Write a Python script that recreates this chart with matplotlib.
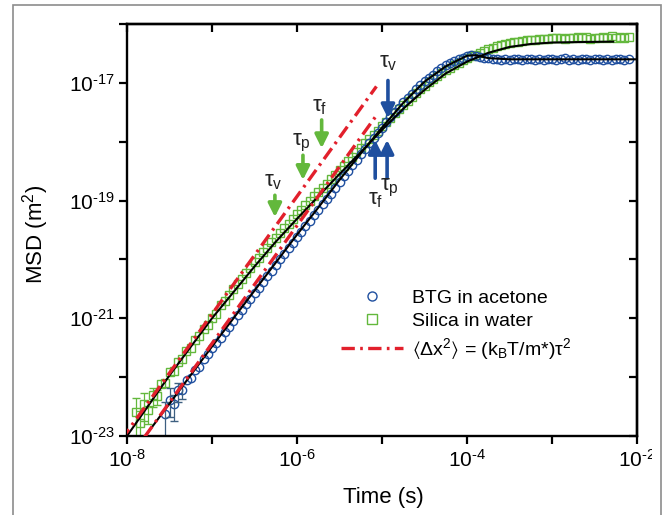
import numpy as np
import matplotlib
matplotlib.use('Agg')
from matplotlib import pyplot as plt
from matplotlib.lines import Line2D
from matplotlib.patches import Rectangle
from matplotlib.ticker import NullLocator, NullFormatter, FixedLocator, FuncFormatter

plt.rcParams['font.family'] = ['Liberation Sans', 'DejaVu Sans']
plt.rcParams['mathtext.fontset'] = 'custom'
plt.rcParams['mathtext.rm'] = 'Liberation Sans'
plt.rcParams['mathtext.it'] = 'Liberation Sans:italic'
plt.rcParams['mathtext.default'] = 'regular'
plt.rcParams['axes.unicode_minus'] = False

blue = '#1f4f9f'
green = '#63b83c'
red = '#e2202c'

# measured MSD, log10 values (m^2), sampled every 0.05 decade in time
msd_green = [
    -22.60, -22.78, -22.45, -22.55, -22.30, -22.32, -22.12, -22.10, -21.92, -21.90,
    -21.74, -21.70, -21.55, -21.50, -21.37, -21.30, -21.18, -21.11, -21.00, -20.92,
    -20.78, -20.70, -20.60, -20.51, -20.41, -20.33, -20.23, -20.15, -20.05, -19.97,
    -19.88, -19.80, -19.71, -19.63, -19.55, -19.47, -19.39, -19.32, -19.23, -19.16,
    -19.08, -19.01, -18.93, -18.86, -18.78, -18.71, -18.63, -18.56, -18.48, -18.41,
    -18.33, -18.26, -18.18, -18.11, -18.03, -17.96, -17.88, -17.81, -17.73, -17.66,
    -17.59, -17.51, -17.44, -17.37, -17.31, -17.24, -17.18, -17.11, -17.05, -16.99,
    -16.94, -16.88, -16.83, -16.78, -16.74, -16.70, -16.66, -16.62, -16.58, -16.55,
    -16.52, -16.49, -16.46, -16.43, -16.41, -16.38, -16.36, -16.34, -16.32, -16.31,
    -16.30, -16.29, -16.28, -16.27, -16.27, -16.26, -16.25, -16.25, -16.24, -16.24,
    -16.24, -16.25, -16.23, -16.24, -16.22, -16.24, -16.22, -16.25, -16.23, -16.24,
    -16.22, -16.23, -16.21, -16.24, -16.22, -16.23, -16.22]
t_green = np.linspace(-7.9, -2.1, len(msd_green))

msd_blue = [
    -22.62, -22.38, -22.45, -22.22, -22.22, -22.05, -22.02, -21.88, -21.82, -21.70,
    -21.60, -21.51, -21.42, -21.33, -21.23, -21.14, -21.05, -20.95, -20.86, -20.76,
    -20.67, -20.57, -20.48, -20.38, -20.29, -20.19, -20.10, -20.00, -19.91, -19.81,
    -19.72, -19.62, -19.53, -19.44, -19.34, -19.25, -19.16, -19.06, -18.97, -18.88,
    -18.78, -18.68, -18.59, -18.50, -18.40, -18.31, -18.21, -18.12, -18.03, -17.94,
    -17.85, -17.76, -17.67, -17.58, -17.50, -17.42, -17.33, -17.26, -17.19, -17.11,
    -17.04, -16.97, -16.91, -16.86, -16.80, -16.75, -16.70, -16.66, -16.63, -16.60,
    -16.57, -16.54, -16.53, -16.54, -16.56, -16.58, -16.58, -16.60, -16.59, -16.61,
    -16.60, -16.61, -16.59, -16.60, -16.62, -16.60, -16.59, -16.61, -16.60, -16.62,
    -16.60, -16.59, -16.61, -16.60, -16.58, -16.61, -16.60, -16.62, -16.59, -16.60,
    -16.61, -16.60, -16.59, -16.61, -16.60, -16.62, -16.59, -16.60, -16.61, -16.60]
t_blue = np.linspace(-7.55, -2.1, len(msd_blue))

# error bars on the first points (decades below / above)
err_green_lo = [0.45, 0.35, 0.30, 0.25, 0.20, 0.15]
err_green_hi = [0.25, 0.20, 0.18, 0.15, 0.12, 0.10]
err_blue_lo = [0.55, 0.30, 0.30, 0.20, 0.15]
err_blue_hi = [0.20, 0.20, 0.15, 0.12, 0.10]

# fitted curves (log10 t, log10 MSD)
fit_green_t = [-8.0, -7.5, -7.0, -6.5, -6.25, -6.0, -5.75, -5.5, -5.25, -5.0,
               -4.75, -4.5, -4.25, -4.0, -3.75, -3.5, -3.25, -3.0, -2.6, -2.28]
fit_green_m = [-23.0, -21.97, -21.0, -20.12, -19.7, -19.31, -18.93, -18.55, -18.18, -17.8,
               -17.44, -17.12, -16.84, -16.64, -16.49, -16.39, -16.34, -16.315, -16.305, -16.30]
fit_blue_t = [-7.8, -7.5, -7.0, -6.5, -6.0, -5.75, -5.5, -5.25, -5.0, -4.75,
              -4.5, -4.25, -4.1, -4.0, -3.9, -3.75, -3.5, -3.0, -2.5, -2.0]
fit_blue_m = [-23.03, -22.45, -21.48, -20.53, -19.58, -19.12, -18.65, -18.2, -17.76, -17.34,
              -16.98, -16.72, -16.61, -16.54, -16.53, -16.58, -16.60, -16.60, -16.60, -16.60]

# ballistic lines <dx^2> = (kT/m*) t^2
ball_green_t = [8.5e-9, 8.6e-6]
ball_green_m = [8.5e-24, 8.7e-18]
ball_blue_t = [1.6e-8, 8.3e-6]
ball_blue_m = [9.5e-24, 2.6e-18]

# time-scale markers: label, colour, log t, tail, tip, label height
arrows = [
    ('v', green, -6.26, -18.91, -19.28, -18.68),
    ('p', green, -5.93, -18.23, -18.65, -18.02),
    ('f', green, -5.71, -17.63, -18.11, -17.40),
    ('v', blue, -4.93, -16.96, -17.60, -16.66),
    ('f', blue, -5.08, -18.62, -17.97, -18.98),
    ('p', blue, -4.94, -18.62, -17.97, -18.78),
]

fig = plt.figure(figsize=(6.63, 5.15), dpi=100)
ax = fig.add_axes([127/663, 1-436/515, 510/663, 412/515])
ax.set_xscale('log')
ax.set_yscale('log')

tg = 10**t_green
mg = 10**np.array(msd_green)
tb = 10**t_blue
mb = 10**np.array(msd_blue)

ax.plot(tg, mg, ls='none', marker='s', ms=6.0, mfc='none', mec=green, mew=1.0, zorder=2)
ax.plot(tb, mb, ls='none', marker='o', ms=6.0, mfc='none', mec=blue, mew=1.0, zorder=2)

n = len(err_green_lo)
ax.errorbar(tg[:n], mg[:n],
            yerr=[mg[:n] - mg[:n]*10**-np.array(err_green_lo), mg[:n]*10**np.array(err_green_hi) - mg[:n]],
            fmt='none', ecolor=green, elinewidth=0.9, capsize=3, zorder=2)
n = len(err_blue_lo)
ax.errorbar(tb[:n], mb[:n],
            yerr=[mb[:n] - mb[:n]*10**-np.array(err_blue_lo), mb[:n]*10**np.array(err_blue_hi) - mb[:n]],
            fmt='none', ecolor='#3d5f80', elinewidth=0.9, capsize=3, zorder=2)

ax.plot(10**np.array(fit_green_t), 10**np.array(fit_green_m), color='black', lw=1.5, zorder=3)
ax.plot(10**np.array(fit_blue_t), 10**np.array(fit_blue_m), color='black', lw=1.5, zorder=3)

dash = (0, (4, 1.6, 0.8, 1.6))
ax.plot(ball_green_t, ball_green_m, color=red, lw=2.4, ls=dash, zorder=4)
ax.plot(ball_blue_t, ball_blue_m, color=red, lw=2.4, ls=dash, zorder=4)

for sub, col, lt, tail, tip, lab in arrows:
    ax.annotate('', xy=(10**lt, 10**tip), xytext=(10**lt, 10**tail),
                arrowprops=dict(arrowstyle='-|>,head_width=0.4,head_length=0.8',
                                color=col, lw=2.6, shrinkA=0, shrinkB=0), zorder=5)
    ax.text(10**(lt - 0.02 if col == green else lt + 0.03 if sub == 'p' else lt), 10**lab,
            'τ$_{' + sub + '}$', ha='center', va='center', fontsize=16, color='#222222', zorder=5)

ax.set_xlim(1e-8, 1e-2)
ax.set_ylim(1e-23, 1e-16)

xt = [1e-8, 1e-7, 1e-6, 1e-5, 1e-4, 1e-3, 1e-2]
yt = [1e-23, 1e-22, 1e-21, 1e-20, 1e-19, 1e-18, 1e-17, 1e-16]

def pow_label(e):
    # short hyphen in the exponent, as in the original figure
    return r'$10^{\text{-}%d}$' % abs(e)

def lab_even(v, pos):
    e = int(round(np.log10(v)))
    return pow_label(e) if e % 2 == 0 else ''

def lab_odd(v, pos):
    e = int(round(np.log10(v)))
    return pow_label(e) if e % 2 != 0 else ''

ax.xaxis.set_major_locator(FixedLocator(xt))
ax.xaxis.set_major_formatter(FuncFormatter(lab_even))
ax.xaxis.set_minor_locator(NullLocator())
ax.yaxis.set_major_locator(FixedLocator(yt))
ax.yaxis.set_major_formatter(FuncFormatter(lab_odd))
ax.yaxis.set_minor_locator(NullLocator())
ax.tick_params(which='major', direction='out', length=6, width=1.6, labelsize=15, pad=3)

for s in ax.spines.values():
    s.set_linewidth(1.7)

top = ax.secondary_xaxis('top')
top.xaxis.set_major_locator(FixedLocator(xt))
top.xaxis.set_major_formatter(NullFormatter())
top.xaxis.set_minor_locator(NullLocator())
top.tick_params(direction='in', length=6, width=1.6)
top.spines['top'].set_linewidth(1.7)

right = ax.secondary_yaxis('right')
right.yaxis.set_major_locator(FixedLocator(yt))
right.yaxis.set_major_formatter(NullFormatter())
right.yaxis.set_minor_locator(NullLocator())
right.tick_params(direction='in', length=6, width=1.6)
right.spines['right'].set_linewidth(1.7)

ax.set_xlabel('Time (s)', fontsize=16)
ax.set_ylabel('MSD (m$^2$)', fontsize=16)
ax.xaxis.set_label_coords(0.502, -0.125)
ax.yaxis.set_label_coords(-0.15, 0.49)

handles = [
    Line2D([], [], ls='none', marker='o', ms=6.5, mfc='none', mec=blue, mew=1.0),
    Line2D([], [], ls='none', marker='s', ms=6.5, mfc='none', mec=green, mew=1.0),
    Line2D([], [], color=red, lw=2.4, ls=dash),
]
labels = ['BTG in acetone', 'Silica in water',
          r'$\langle\Delta x^2\rangle$ = (k$_B$T/m*)τ$^2$']
ax.legend(handles, labels, loc='lower left', bbox_to_anchor=(0.42, 0.18), frameon=False,
          fontsize=14, handlelength=3.2, handletextpad=0.45, labelspacing=0.3,
          borderpad=0, borderaxespad=0)

# frame of the original figure panel, right edge clips the last tick label
fig.add_artist(Rectangle((652/663, 0), 8.5/663, 1, transform=fig.transFigure,
                         facecolor='white', edgecolor='none', zorder=10))
fig.add_artist(Rectangle((13/663, -0.05), 648/663, 1.05 - 5/515, transform=fig.transFigure,
                         fill=False, edgecolor='#8c8c8c', lw=1.2, zorder=11))

fig.savefig('out.png', dpi=100)
